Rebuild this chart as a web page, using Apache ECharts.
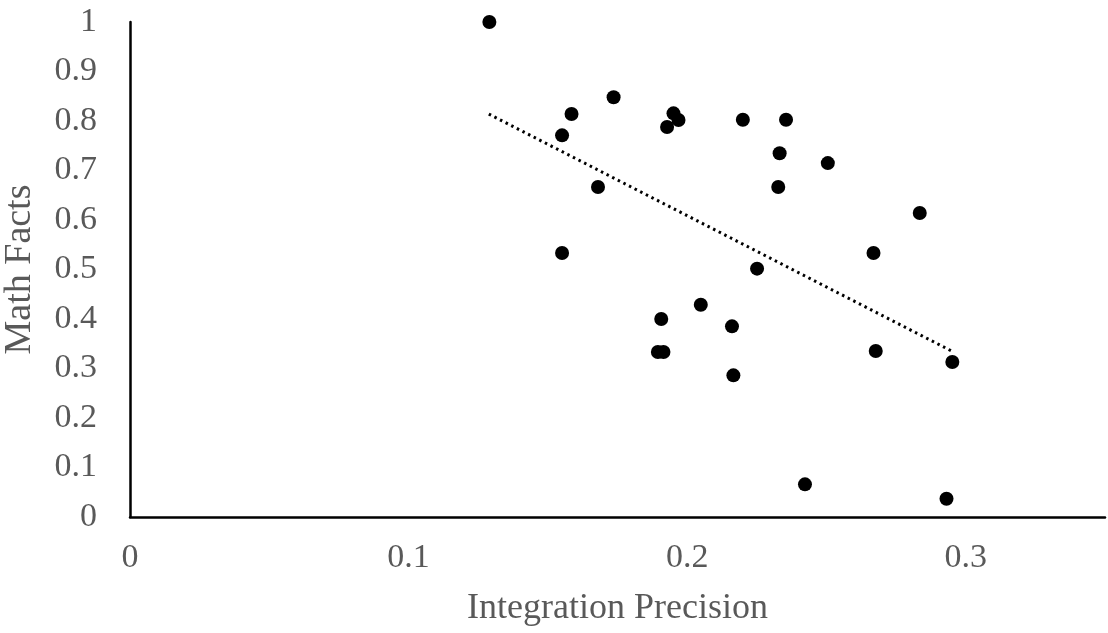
<!DOCTYPE html>
<html>
<head>
<meta charset="utf-8">
<script src="https://cdn.jsdelivr.net/npm/echarts@6/dist/echarts.min.js"></script>
<style>
html,body{margin:0;padding:0;background:#fff;}
#chart{width:1108px;height:633px;}
</style>
</head>
<body>
<div id="chart"></div>
<script>
// Data
const integrationPrecision = [0.129, 0.1736, 0.1585, 0.1551, 0.1951, 0.1969, 0.1928, 0.220, 0.2355, 0.2332, 0.2505, 0.2327, 0.168, 0.1551, 0.2669, 0.2251, 0.2049, 0.1907, 0.2161, 0.1895, 0.1915, 0.2677, 0.2952, 0.2166, 0.2423, 0.2931, 0.2835];
const mathFacts = [1.0, 0.848, 0.814, 0.771, 0.8155, 0.802, 0.788, 0.8026, 0.8026, 0.7347, 0.715, 0.6667, 0.6667, 0.5333, 0.5333, 0.5017, 0.4289, 0.40, 0.3852, 0.3333, 0.3333, 0.3354, 0.3131, 0.2862, 0.066, 0.037, 0.614];
// Linear trendline endpoints as drawn in the reference
const trendX = [0.1288, 0.2949];
const trendY = [0.814, 0.3354];
const xTicks = [0, 0.1, 0.2, 0.3];
const yTicks = [0, 0.1, 0.2, 0.3, 0.4, 0.5, 0.6, 0.7, 0.8, 0.9, 1];

const FONT = 'Liberation Serif';
const GRAY = '#595959';

const points = integrationPrecision.map((x, i) => [x, mathFacts[i]]);
const trend = trendX.map((x, i) => [x, trendY[i]]);

const chart = echarts.init(document.getElementById('chart'));
chart.setOption({
  animation: false,
  backgroundColor: '#fff',
  grid: { left: 130, right: 3, top: 22, bottom: 116, containLabel: false, outerBoundsMode: 'none' },
  xAxis: {
    type: 'value', min: 0, max: 0.35, interval: 0.1,
    name: 'Integration Precision', nameLocation: 'middle', nameGap: 74,
    nameTextStyle: { fontFamily: FONT, fontSize: 36, color: GRAY },
    axisLine: { show: true, onZero: false, lineStyle: { color: '#000', width: 2.5 } },
    axisTick: { show: false },
    splitLine: { show: false },
    axisLabel: {
      fontFamily: FONT, fontSize: 34, color: GRAY, margin: 24,
      showMaxLabel: false,
      formatter: v => xTicks.some(t => Math.abs(t - v) < 1e-9) ? String(+v.toFixed(2)) : ''
    }
  },
  yAxis: {
    type: 'value', min: 0, max: 1, interval: 0.1,
    name: 'Math Facts', nameLocation: 'middle', nameGap: 91,
    nameTextStyle: { fontFamily: FONT, fontSize: 38, color: GRAY },
    axisLine: { show: true, onZero: false, lineStyle: { color: '#000', width: 2.5 } },
    axisTick: { show: false },
    splitLine: { show: false },
    axisLabel: {
      fontFamily: FONT, fontSize: 34, color: GRAY, margin: 33,
      formatter: v => yTicks.some(t => Math.abs(t - v) < 1e-9) ? String(+v.toFixed(2)) : ''
    }
  },
  series: [
    {
      type: 'line', data: trend, showSymbol: false, symbol: 'none', silent: true,
      lineStyle: { color: '#000', width: 3, type: [2.5, 3.8], opacity: 1 }, z: 1
    },
    {
      type: 'scatter', data: points, symbol: 'circle', symbolSize: 14,
      itemStyle: { color: '#000', opacity: 1 }, z: 2
    }
  ]
});
</script>
</body>
</html>
